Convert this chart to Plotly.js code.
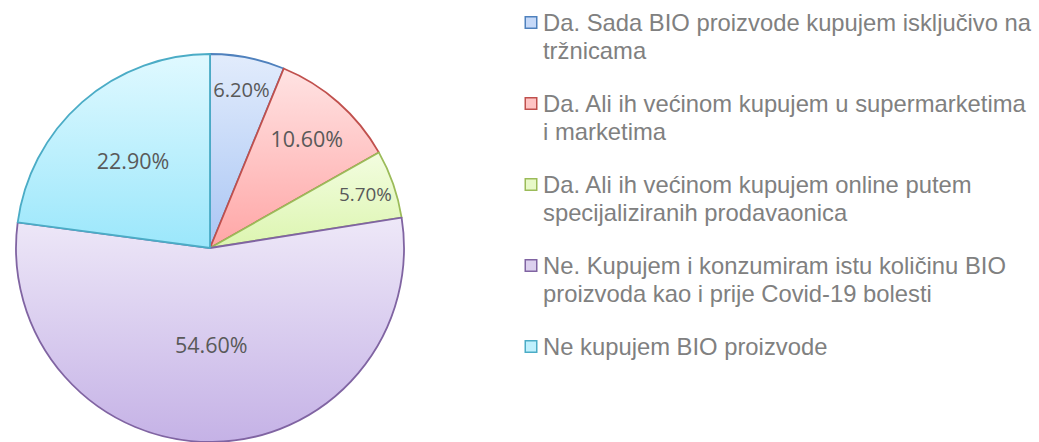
<!DOCTYPE html>
<html>
<head>
<meta charset="utf-8">
<script src="https://cdn.plot.ly/plotly-3.0.1.min.js"></script>
<style>
  html, body { margin: 0; padding: 0; background: #ffffff; overflow: hidden; }
  #chart { width: 1039px; height: 442px; }
</style>
</head>
<body>
<div id="chart"></div>
<script>
// ---- data ----
var categories = [
  "Da. Sada BIO proizvode kupujem isključivo na<br>tržnicama",
  "Da. Ali ih većinom kupujem u supermarketima<br>i marketima",
  "Da. Ali ih većinom kupujem online putem<br>specijaliziranih prodavaonica",
  "Ne. Kupujem i konzumiram istu količinu BIO<br>proizvoda kao i prije Covid-19 bolesti",
  "Ne kupujem BIO proizvode"
];
var values = [6.2, 10.6, 5.7, 54.6, 22.9];

// ---- styles ----
var edgeColors = ["#4F81BD", "#C0504D", "#9BBB59", "#8064A2", "#4BACC6"];
var fillColors = ["#c6d9f8", "#ffc4c4", "#e8f9c8", "#dcd0ee", "#bff0fd"];
var gradTop    = ["#e2ecfc", "#ffe3e3", "#f3fde0", "#eee8f8", "#e0f9ff"];
var gradBottom = ["#aac6f4", "#ffa6a6", "#dcf5b0", "#c5b2e6", "#9be7fb"];

var W = 1039, H = 442;
var cx = 210, cy = 248, r = 194;

var data = [{
  type: "pie",
  labels: categories,
  values: values,
  sort: false,
  direction: "clockwise",
  rotation: 0,
  hole: 0,
  domain: { x: [(cx - r) / W, (cx + r) / W], y: [(H - cy - r) / H, (H - cy + r) / H] },
  marker: { colors: fillColors, line: { color: edgeColors, width: 1.8 } },
  texttemplate: "%{percent:.2%}",
  textposition: "inside",
  insidetextorientation: "horizontal",
  textfont: { family: "Open Sans", size: 21.5, color: "#595959" },
  hoverinfo: "label+percent",
  showlegend: false
}];

// ---- legend drawn as annotations + shapes ----
var legendX = 541, markX = 531, markSize = 11.5;
var firstY = 22.5, itemGap = 81, lineGap = 27.5;
var annotations = [], shapes = [];
categories.forEach(function (lab, i) {
  var y0 = firstY + i * itemGap;
  shapes.push({
    type: "rect", xref: "paper", yref: "paper",
    x0: (markX - markSize / 2) / W, x1: (markX + markSize / 2) / W,
    y0: 1 - (y0 + markSize / 2) / H, y1: 1 - (y0 - markSize / 2) / H,
    fillcolor: fillColors[i], line: { color: edgeColors[i], width: 1.5 }
  });
  lab.split("<br>").forEach(function (line, j) {
    annotations.push({
      xref: "paper", yref: "paper", x: legendX / W, y: 1 - (y0 + j * lineGap) / H,
      xanchor: "left", yanchor: "middle", showarrow: false, text: line,
      font: { family: "Liberation Sans, Arial, sans-serif", size: 23.8, color: "#808080" }
    });
  });
});

var layout = {
  width: W, height: H,
  margin: { l: 0, r: 0, t: 0, b: 0 },
  paper_bgcolor: "#ffffff",
  showlegend: false,
  annotations: annotations,
  shapes: shapes
};

var gd = document.getElementById("chart");
Plotly.newPlot(gd, data, layout, { displayModeBar: false, staticPlot: true }).then(function () {
  var ns = "http://www.w3.org/2000/svg";
  var svg = gd.querySelector("svg.main-svg");
  var defs = svg.querySelector("defs");
  if (!defs) { defs = document.createElementNS(ns, "defs"); svg.insertBefore(defs, svg.firstChild); }
  gradTop.forEach(function (top, i) {
    var g = document.createElementNS(ns, "linearGradient");
    g.setAttribute("id", "pieGrad" + i);
    g.setAttribute("x1", "0"); g.setAttribute("y1", "0");
    g.setAttribute("x2", "0"); g.setAttribute("y2", "1");
    [[0, top], [1, gradBottom[i]]].forEach(function (s) {
      var st = document.createElementNS(ns, "stop");
      st.setAttribute("offset", s[0]);
      st.setAttribute("stop-color", s[1]);
      g.appendChild(st);
    });
    defs.appendChild(g);
  });
  gd.querySelectorAll(".slice path.surface").forEach(function (p, i) {
    p.style.fill = "url(#pieGrad" + i + ")";
  });
});
</script>
</body>
</html>
